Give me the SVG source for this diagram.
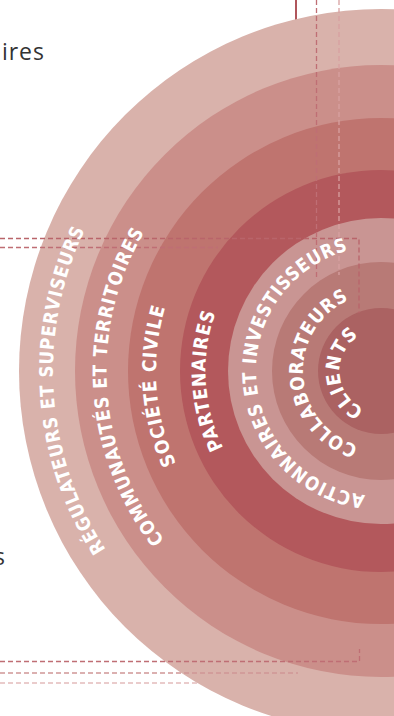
<svg xmlns="http://www.w3.org/2000/svg" xmlns:xlink="http://www.w3.org/1999/xlink" width="394" height="716" viewBox="0 0 394 716">
<style>
.lbl{fill:#ffffff;font-family:"DejaVu Sans",sans-serif;font-weight:bold;font-size:19px;letter-spacing:1px}
.side{fill:#333333;font-family:"Open Sans","Noto Sans",sans-serif;font-size:23px;letter-spacing:1px}
.dash{fill:none;stroke-width:1.3;stroke-dasharray:5 3}
</style>
<defs>
<path id="p1" d="M709,371 A328,328 0 1 1 53,371 A328,328 0 1 1 709,371"/>
<path id="p2" d="M655.5,371 A274.5,274.5 0 1 1 106.5,371 A274.5,274.5 0 1 1 655.5,371"/>
<path id="p3" d="M606,371 A225,225 0 1 1 156,371 A225,225 0 1 1 606,371"/>
<path id="p4" d="M556.5,371 A175.5,175.5 0 1 1 205.5,371 A175.5,175.5 0 1 1 556.5,371"/>
<path id="p5" d="M506,371 A125,125 0 1 1 256,371 A125,125 0 1 1 506,371"/>
<path id="p6" d="M459,371 A78,78 0 1 1 303,371 A78,78 0 1 1 459,371"/>
<path id="p7" d="M422.5,371 A41.5,41.5 0 1 1 339.5,371 A41.5,41.5 0 1 1 422.5,371"/>
</defs>
<text class="side" x="45" y="60" text-anchor="end">ires</text>
<text class="side" x="6" y="565" text-anchor="end">s</text>
<line x1="296" y1="0" x2="296" y2="20" stroke="#b0565c" stroke-width="2"/>
<g id="ring-regulateurs">
<circle cx="381" cy="371" r="362" fill="#d9b2ab"/>
</g>
<g id="ring-communautes">
<circle cx="381" cy="371" r="306" fill="#cb8f8a"/>
</g>
<g id="ring-societe">
<circle cx="381" cy="371" r="253" fill="#bf746f"/>
</g>
<g id="ring-partenaires">
<circle cx="381" cy="371" r="201" fill="#b3585c"/>
</g>
<g id="ring-actionnaires">
<circle cx="381" cy="371" r="153" fill="#c99593"/>
</g>
<g id="ring-collaborateurs">
<circle cx="381" cy="371" r="109" fill="#b87a76"/>
</g>
<g id="ring-clients">
<circle cx="381" cy="371" r="63" fill="#ab6262"/>
</g>
<g id="connectors">
<path class="dash" stroke="#b9646a" d="M0,238.5 H359 V313"/>
<path class="dash" stroke="#bf6e74" d="M0,247.5 H218"/>
<path class="dash" stroke="#bf6e74" d="M316.5,0 V280"/>
<path class="dash" stroke="#d7a0a0" d="M339,0 V275"/>
<path class="dash" stroke="#bf6e74" d="M0,661.5 H359.5 V649"/>
<path class="dash" stroke="#cf9696" d="M0,673 H298"/>
<path class="dash" stroke="#e3bcbc" d="M0,683 H200"/>
</g>
<g id="labels">
<text class="lbl"><textPath xlink:href="#p1" startOffset="1009" text-anchor="middle" textLength="335" lengthAdjust="spacingAndGlyphs">RÉGULATEURS ET SUPERVISEURS</textPath></text>
<text class="lbl"><textPath xlink:href="#p2" startOffset="844.2" text-anchor="middle" textLength="328" lengthAdjust="spacingAndGlyphs">COMMUNAUTÉS ET TERRITOIRES</textPath></text>
<text class="lbl"><textPath xlink:href="#p3" startOffset="691.5" text-anchor="middle" textLength="161" lengthAdjust="spacingAndGlyphs">SOCIÉTÉ CIVILE</textPath></text>
<text class="lbl"><textPath xlink:href="#p4" startOffset="541.4" text-anchor="middle" textLength="140" lengthAdjust="spacingAndGlyphs">PARTENAIRES</textPath></text>
<text class="lbl"><textPath xlink:href="#p5" startOffset="384.1" text-anchor="middle" textLength="344" lengthAdjust="spacingAndGlyphs">ACTIONNAIRES ET INVESTISSEURS</textPath></text>
<text class="lbl"><textPath xlink:href="#p6" startOffset="240.1" text-anchor="middle" textLength="189" lengthAdjust="spacingAndGlyphs">COLLABORATEURS</textPath></text>
<text class="lbl"><textPath xlink:href="#p7" startOffset="127.6" text-anchor="middle" textLength="90" lengthAdjust="spacingAndGlyphs">CLIENTS</textPath></text>
</g>
</svg>
